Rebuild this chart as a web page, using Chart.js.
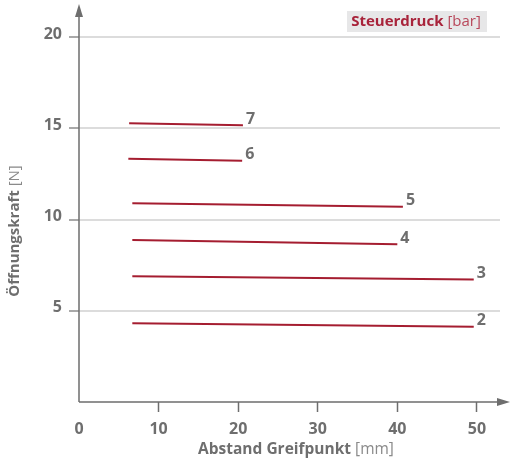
<!DOCTYPE html>
<html>
<head>
<meta charset="utf-8">
<script src="https://cdn.jsdelivr.net/npm/chart.js@4.4.1/dist/chart.umd.min.js"></script>
<style>
  html, body { margin: 0; padding: 0; background: #fff; }
</style>
</head>
<body>
<canvas id="chart" width="510" height="465"></canvas>
<script>
  'use strict';

  // Steuerdruck [bar] - one line per pressure level
  const pressures = ['2', '3', '4', '5', '6', '7'];
  // Abstand Greifpunkt [mm] at start / end of each line
  const distStart = [6.7, 6.7, 6.7, 6.7, 6.2, 6.3];
  const distEnd = [49.6, 49.6, 40.0, 40.7, 20.5, 20.6];
  // Öffnungskraft [N] at start / end of each line
  const forceStart = [4.32, 6.89, 8.88, 10.89, 13.33, 15.28];
  const forceEnd = [4.12, 6.71, 8.64, 10.70, 13.22, 15.17];
  // tick labels
  const xTicks = [0, 10, 20, 30, 40, 50];
  const yTicks = [0, 5, 10, 15, 20];

  const GRAY = '#6e6e6e';
  const RED = '#a51d30';
  const FONT = '"Open Sans", "DejaVu Sans", sans-serif';

  const datasets = pressures.map((p, i) => ({
    label: p,
    data: [
      { x: distStart[i], y: forceStart[i] },
      { x: distEnd[i], y: forceEnd[i] }
    ],
    showLine: true,
    borderColor: RED,
    borderWidth: 2,
    pointRadius: 0
  }));

  // draws text made of several runs (bold / normal) centred on 0,0
  const drawRuns = (ctx, runs, color) => {
    let total = 0;
    runs.forEach(r => { ctx.font = r.font; r.w = ctx.measureText(r.text).width; total += r.w; });
    let x = -total / 2;
    runs.forEach(r => {
      ctx.font = r.font;
      ctx.fillStyle = r.color || color;
      ctx.fillText(r.text, x, 0);
      x += r.w;
    });
  };

  const decorations = {
    id: 'decorations',
    afterDraw(chart) {
      const ctx = chart.ctx;
      const xs = chart.scales.x, ys = chart.scales.y;
      const x0 = xs.getPixelForValue(0);
      const y0 = ys.getPixelForValue(0);
      ctx.save();

      // axes with arrow heads
      ctx.strokeStyle = GRAY;
      ctx.fillStyle = GRAY;
      ctx.lineWidth = 1.5;
      ctx.beginPath();
      ctx.moveTo(x0, y0);
      ctx.lineTo(x0, 12);
      ctx.moveTo(x0, y0);
      ctx.lineTo(502, y0);
      ctx.stroke();
      ctx.beginPath();
      ctx.moveTo(x0, 4);
      ctx.lineTo(x0 - 4, 17);
      ctx.lineTo(x0 + 4, 17);
      ctx.closePath();
      ctx.fill();
      ctx.beginPath();
      ctx.moveTo(510, y0);
      ctx.lineTo(497, y0 - 4);
      ctx.lineTo(497, y0 + 4);
      ctx.closePath();
      ctx.fill();

      // pressure label at the end of each line
      ctx.font = 'bold 16px ' + FONT;
      ctx.fillStyle = GRAY;
      ctx.textAlign = 'left';
      ctx.textBaseline = 'middle';
      chart.data.datasets.forEach((ds, i) => {
        const pts = chart.getDatasetMeta(i).data;
        const end = pts[pts.length - 1];
        ctx.fillText(ds.label, end.x + 3, end.y - 6);
      });

      // axis titles
      ctx.save();
      ctx.translate(296, 450);
      drawRuns(ctx, [
        { text: 'Abstand Greifpunkt', font: 'bold 15.5px ' + FONT },
        { text: ' [mm]', font: '15.5px ' + FONT, color: '#8a8a8a' }
      ], GRAY);
      ctx.restore();

      ctx.save();
      ctx.translate(15, 231);
      ctx.rotate(-Math.PI / 2);
      drawRuns(ctx, [
        { text: 'Öffnungskraft', font: 'bold 15px ' + FONT },
        { text: ' [N]', font: '15px ' + FONT, color: '#8a8a8a' }
      ], GRAY);
      ctx.restore();

      // series caption box
      ctx.fillStyle = '#e7e7e8';
      ctx.fillRect(347, 11, 140, 21);
      ctx.save();
      ctx.translate(416, 21.5);
      drawRuns(ctx, [
        { text: 'Steuerdruck', font: 'bold 15px ' + FONT },
        { text: ' [bar]', font: '15px ' + FONT, color: '#b8475a' }
      ], '#a8233a');
      ctx.restore();

      ctx.restore();
    }
  };

  new Chart(document.getElementById('chart'), {
    type: 'scatter',
    data: { datasets },
    options: {
      responsive: false,
      animation: false,
      layout: { padding: { top: 5, right: 10, left: 0, bottom: 0 } },
      plugins: {
        legend: { display: false },
        tooltip: { enabled: false }
      },
      scales: {
        x: {
          type: 'linear',
          min: 0,
          max: 52.9,
          afterFit: s => { s.height = 63; },
          afterBuildTicks: s => { s.ticks = xTicks.map(v => ({ value: v })); },
          border: { display: false },
          grid: {
            drawOnChartArea: false,
            tickLength: 10,
            tickWidth: 1.5,
            tickColor: c => (c.tick && c.tick.value === 0 ? 'rgba(0,0,0,0)' : GRAY)
          },
          ticks: {
            padding: 8,
            color: GRAY,
            font: { family: FONT, size: 16, weight: 'bold' }
          }
        },
        y: {
          type: 'linear',
          min: 0,
          max: 21.12,
          afterFit: s => { s.width = 79; },
          afterBuildTicks: s => { s.ticks = yTicks.map(v => ({ value: v })); },
          border: { display: false },
          grid: {
            color: c => (c.tick && c.tick.value === 0 ? 'rgba(0,0,0,0)' : '#dcdcdc'),
            lineWidth: 2,
            tickLength: 10,
            tickWidth: 1.5,
            tickColor: c => (c.tick && c.tick.value === 0 ? 'rgba(0,0,0,0)' : '#8c8c8c')
          },
          ticks: {
            padding: 7,
            labelOffset: -3,
            color: GRAY,
            font: { family: FONT, size: 16, weight: 'bold' },
            callback: v => (v === 0 ? '' : v)
          }
        }
      }
    },
    plugins: [decorations]
  });
</script>
</body>
</html>
